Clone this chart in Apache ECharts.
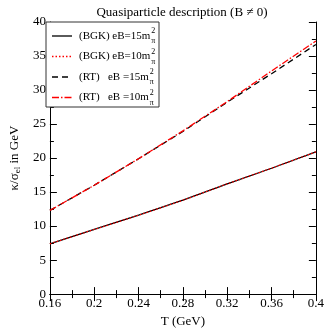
<!DOCTYPE html>
<html>
<head>
<meta charset="utf-8">
<script src="https://cdn.jsdelivr.net/npm/echarts@6/dist/echarts.min.js"></script>
<style>
  html, body { margin: 0; padding: 0; background: #fff; }
  #main { width: 327px; height: 333px; }
</style>
</head>
<body>
<div id="main"></div>
<script>
// temperatures (GeV)
var temps = [0.16, 0.20, 0.24, 0.28, 0.32, 0.36, 0.40];
// kappa / sigma_el
var bgk15 = [7.4, 9.5, 11.6, 13.8, 16.2, 18.5, 20.9];
var bgk10 = [7.4, 9.5, 11.6, 13.8, 16.2, 18.5, 20.9];
var rt15 = [12.3, 16.0, 19.9, 23.9, 28.2, 32.4, 36.7];
var rt10 = [12.3, 16.0, 19.9, 24.0, 28.3, 32.8, 37.2];
var legendNames = ['(BGK) eB=15m', '(BGK) eB=10m', '(RT)   eB =15m', '(RT)   eB =10m'];

var font = 'Liberation Serif';

function pairs(ys) {
    var out = [];
    for (var i = 0; i < temps.length; i++) out.push([temps[i], ys[i]]);
    return out;
}

var styles = [
    { color: '#000', type: 'solid' },
    { color: '#ff0000', type: [1.5, 2] },
    { color: '#000', type: [6, 4] },
    { color: '#ff0000', type: [7, 2, 1.5, 2] }
];
var allData = [bgk15, bgk10, rt15, rt10];

var series = [];
for (var s = 0; s < 4; s++) {
    series.push({
        name: legendNames[s],
        type: 'line',
        symbol: 'none',
        silent: true,
        data: pairs(allData[s]),
        lineStyle: { color: styles[s].color, type: styles[s].type, width: 1.3 }
    });
}

// hand-made legend box (m_pi^2 needs stacked sup/sub)
var ctx = document.createElement('canvas').getContext('2d');
ctx.font = '11px "' + font + '"';
var legendItems = [
    { type: 'rect', shape: { x: 46, y: 22, width: 113, height: 85 },
      style: { fill: '#fff', stroke: '#333', lineWidth: 1 }, z: 100 }
];
var rowY = [36, 56.5, 77, 97.5];
for (var r = 0; r < 4; r++) {
    var y = rowY[r];
    legendItems.push({
        type: 'line', shape: { x1: 52, y1: y, x2: 72, y2: y },
        style: { stroke: styles[r].color, lineWidth: 1.3, lineDash: styles[r].type === 'solid' ? null : styles[r].type },
        z: 101
    });
    var w = ctx.measureText(legendNames[r]).width;
    legendItems.push({
        type: 'text', x: 79, y: y, z: 101,
        style: { text: legendNames[r], font: '11px "' + font + '"', fill: '#000', verticalAlign: 'middle' }
    });
    legendItems.push({
        type: 'text', x: 79 + w + 1, y: y - 5, z: 101,
        style: { text: '2', font: '8px "' + font + '"', fill: '#000', verticalAlign: 'middle' }
    });
    legendItems.push({
        type: 'text', x: 79 + w + 1, y: y + 5, z: 101,
        style: { text: 'π', font: '8px "' + font + '"', fill: '#000', verticalAlign: 'middle' }
    });
}

var chart = echarts.init(document.getElementById('main'), null, { renderer: 'canvas' });

var tickStyle = { lineStyle: { color: '#000', width: 1 } };

chart.setOption({
    animation: false,
    textStyle: { fontFamily: font },
    title: {
        text: 'Quasiparticle description (B \u2260 0)',
        left: 177, top: 1, textAlign: 'center',
        textStyle: { fontFamily: font, fontSize: 13, fontWeight: 'normal', color: '#000' }
    },
    grid: { left: 37, right: 10, top: 22, bottom: 32 },
    xAxis: [{
        type: 'value', min: 0.16, max: 0.4, interval: 0.04,
        name: 'T (GeV)', nameLocation: 'middle', nameGap: 20,
        nameTextStyle: { fontFamily: font, fontSize: 13, color: '#000' },
        axisLine: { show: true, lineStyle: { color: '#000', width: 1 } },
        axisTick: { show: true, inside: true, length: 7, lineStyle: tickStyle.lineStyle },
        minorTick: { show: true, splitNumber: 2, length: 4, lineStyle: tickStyle.lineStyle },
        axisLabel: { fontFamily: font, fontSize: 13, color: '#000', margin: 3,
            formatter: function (v) { return String(+v.toFixed(2)); } },
        splitLine: { show: false }
    }, {
        type: 'value', position: 'top', min: 0.16, max: 0.4, interval: 0.04,
        axisLine: { show: true, lineStyle: { color: '#000', width: 1 } },
        axisTick: { show: true, inside: true, length: 7, lineStyle: tickStyle.lineStyle },
        minorTick: { show: true, splitNumber: 2, length: 4, lineStyle: tickStyle.lineStyle },
        axisLabel: { show: false },
        splitLine: { show: false }
    }],
    yAxis: [{
        type: 'value', min: 0, max: 40, interval: 5,
        name: '\u03ba/\u03c3{sub|el} in GeV', nameLocation: 'middle', nameGap: 25,
        nameTextStyle: { fontFamily: font, fontSize: 13, color: '#000',
            rich: { sub: { fontFamily: font, fontSize: 9, verticalAlign: 'bottom', padding: [6, 0, 0, 0] } } },
        axisLine: { show: true, lineStyle: { color: '#000', width: 1 } },
        axisTick: { show: true, inside: true, length: 7, lineStyle: tickStyle.lineStyle },
        minorTick: { show: true, splitNumber: 2, length: 4, lineStyle: tickStyle.lineStyle },
        axisLabel: { fontFamily: font, fontSize: 13, color: '#000', margin: 4 },
        splitLine: { show: false }
    }, {
        type: 'value', position: 'right', min: 0, max: 40, interval: 5,
        axisLine: { show: true, lineStyle: { color: '#000', width: 1 } },
        axisTick: { show: true, inside: true, length: 7, lineStyle: tickStyle.lineStyle },
        minorTick: { show: true, splitNumber: 2, length: 4, lineStyle: tickStyle.lineStyle },
        axisLabel: { show: false },
        splitLine: { show: false }
    }],
    series: series,
    graphic: legendItems
});
</script>
</body>
</html>
